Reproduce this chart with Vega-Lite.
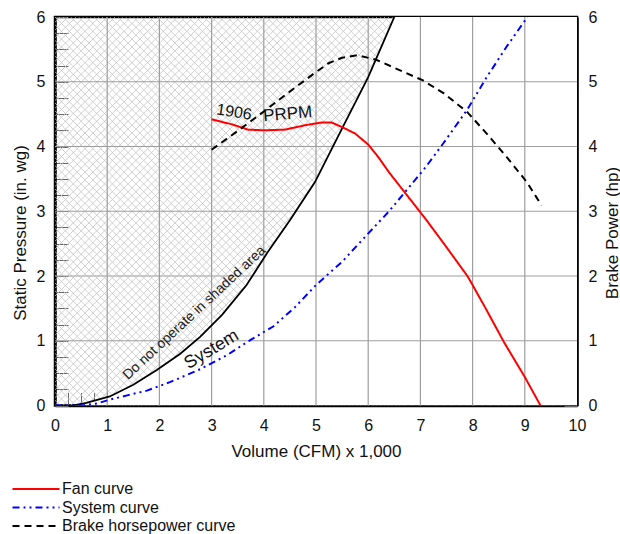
{
  "$schema": "https://vega.github.io/schema/vega-lite/v6.json",
  "width": 522,
  "height": 388.5,
  "autosize": {"type": "none"},
  "padding": {"left": 55, "top": 17, "right": 43, "bottom": 128},
  "background": "white",
  "config": {
    "view": {"stroke": "black", "strokeWidth": 2.5},
    "font": "Liberation Sans",
    "axis": {
      "labelFont": "Liberation Sans", "titleFont": "Liberation Sans",
      "labelFontSize": 16, "titleFontSize": 17, "titleFontWeight": "normal",
      "labelColor": "#111", "titleColor": "#111",
      "grid": false, "domainColor": "black", "domainWidth": 2.5,
      "tickColor": "#666", "tickSize": -13, "tickWidth": 1,
      "labelFlush": false, "labelOverlap": false
    }
  },
  "datasets": {
    "hatch": [
      {"p": -7.5, "q": -0.05}, {"p": -7.35, "q": 0.1}, {"p": -7.2, "q": 0.25}, {"p": -7.05, "q": 0.4}, {"p": -6.9, "q": 0.55},
      {"p": -6.75, "q": 0.7}, {"p": -6.6, "q": 0.85}, {"p": -6.45, "q": 1.0}, {"p": -6.3, "q": 1.15}, {"p": -6.15, "q": 1.3},
      {"p": -6.0, "q": 1.45}, {"p": -5.85, "q": 1.6}, {"p": -5.7, "q": 1.75}, {"p": -5.55, "q": 1.9}, {"p": -5.4, "q": 2.05},
      {"p": -5.25, "q": 2.2}, {"p": -5.1, "q": 2.35}, {"p": -4.95, "q": 2.5}, {"p": -4.8, "q": 2.65}, {"p": -4.65, "q": 2.8},
      {"p": -4.5, "q": 2.95}, {"p": -4.35, "q": 3.1}, {"p": -4.2, "q": 3.25}, {"p": -4.05, "q": 3.4}, {"p": -3.9, "q": 3.55},
      {"p": -3.75, "q": 3.7}, {"p": -3.6, "q": 3.85}, {"p": -3.45, "q": 4.0}, {"p": -3.3, "q": 4.15}, {"p": -3.15, "q": 4.3},
      {"p": -3.0, "q": 4.45}, {"p": -2.85, "q": 4.6}, {"p": -2.7, "q": 4.75}, {"p": -2.55, "q": 4.9}, {"p": -2.4, "q": 5.05},
      {"p": -2.25, "q": 5.2}, {"p": -2.1, "q": 5.35}, {"p": -1.95, "q": 5.5}, {"p": -1.8, "q": 5.65}, {"p": -1.65, "q": 5.8},
      {"p": -1.5, "q": 5.95}, {"p": -1.35, "q": 6.1}, {"p": -1.2, "q": 6.25}, {"p": -1.05, "q": 6.4}, {"p": -0.9, "q": 6.55},
      {"p": -0.75, "q": 6.7}, {"p": -0.6, "q": 6.85}, {"p": -0.45, "q": 7.0}, {"p": -0.3, "q": 7.15}, {"p": -0.15, "q": 7.3},
      {"p": 0.0, "q": 7.45}, {"p": 0.15, "q": 7.6}, {"p": 0.3, "q": 7.75}, {"p": 0.45, "q": 7.9}, {"p": 0.6, "q": 8.05},
      {"p": 0.75, "q": 8.2}, {"p": 0.9, "q": 8.35}, {"p": 1.05, "q": 8.5}, {"p": 1.2, "q": 8.65}, {"p": 1.35, "q": 8.8},
      {"p": 1.5, "q": 8.95}, {"p": 1.65, "q": 9.1}, {"p": 1.8, "q": 9.25}, {"p": 1.95, "q": 9.4}, {"p": 2.1, "q": 9.55},
      {"p": 2.25, "q": 9.7}, {"p": 2.4, "q": 9.85}, {"p": 2.55, "q": 10.0}, {"p": 2.7, "q": 10.15}, {"p": 2.85, "q": 10.3},
      {"p": 3.0, "q": 10.45}, {"p": 3.15, "q": 10.6}, {"p": 3.3, "q": 10.75}, {"p": 3.45, "q": 10.9}, {"p": 3.6, "q": 11.05},
      {"p": 3.75, "q": 11.2}, {"p": 3.9, "q": 11.35}, {"p": 4.05, "q": 11.5}, {"p": 4.2, "q": 11.65}, {"p": 4.35, "q": 11.8},
      {"p": 4.5, "q": 11.95}, {"p": 4.65, "q": 12.1}, {"p": 4.8, "q": 12.25}, {"p": 4.95, "q": 12.4}, {"p": 5.1, "q": 12.55},
      {"p": 5.25, "q": 12.7}, {"p": 5.4, "q": 12.85}, {"p": 5.55, "q": 13.0}, {"p": 5.7, "q": 13.15}, {"p": 5.85, "q": 13.3},
      {"p": 6.0, "q": 13.45}, {"p": 6.15, "q": 13.6}, {"p": 6.3, "q": 13.75}, {"p": 6.45, "q": 13.9}, {"p": 6.6, "q": 14.05}
    ],
    "black": [
      {"x": 0.35, "y": 0}, {"x": 0.6, "y": 0.04}, {"x": 1.05, "y": 0.14}, {"x": 1.5, "y": 0.32}, {"x": 1.95, "y": 0.55},
      {"x": 2.4, "y": 0.8}, {"x": 2.78, "y": 1.06}, {"x": 3.2, "y": 1.4}, {"x": 3.67, "y": 1.86}, {"x": 4.06, "y": 2.35},
      {"x": 4.5, "y": 2.86}, {"x": 4.98, "y": 3.45}, {"x": 5.52, "y": 4.31}, {"x": 6.0, "y": 5.07}, {"x": 6.5, "y": 6.0}
    ],
    "curves": [
      {"series": "Fan curve", "x": 3.0, "y": 4.42}, {"series": "Fan curve", "x": 3.4, "y": 4.34}, {"series": "Fan curve", "x": 3.7, "y": 4.26},
      {"series": "Fan curve", "x": 4.0, "y": 4.25}, {"series": "Fan curve", "x": 4.4, "y": 4.26}, {"series": "Fan curve", "x": 4.8, "y": 4.33},
      {"series": "Fan curve", "x": 5.1, "y": 4.37}, {"series": "Fan curve", "x": 5.3, "y": 4.37}, {"series": "Fan curve", "x": 5.5, "y": 4.3},
      {"series": "Fan curve", "x": 5.75, "y": 4.2}, {"series": "Fan curve", "x": 6.0, "y": 4.03}, {"series": "Fan curve", "x": 6.2, "y": 3.83},
      {"series": "Fan curve", "x": 6.4, "y": 3.6}, {"series": "Fan curve", "x": 6.75, "y": 3.24}, {"series": "Fan curve", "x": 7.1, "y": 2.88},
      {"series": "Fan curve", "x": 7.45, "y": 2.5}, {"series": "Fan curve", "x": 7.9, "y": 2.0}, {"series": "Fan curve", "x": 8.0, "y": 1.86},
      {"series": "Fan curve", "x": 8.25, "y": 1.5}, {"series": "Fan curve", "x": 8.6, "y": 0.98}, {"series": "Fan curve", "x": 9.0, "y": 0.44},
      {"series": "Fan curve", "x": 9.3, "y": 0.0},
      {"series": "System curve", "x": 0.0, "y": 0.0}, {"series": "System curve", "x": 0.5, "y": 0.0}, {"series": "System curve", "x": 0.8, "y": 0.03},
      {"series": "System curve", "x": 1.05, "y": 0.09}, {"series": "System curve", "x": 1.4, "y": 0.16}, {"series": "System curve", "x": 1.76, "y": 0.23},
      {"series": "System curve", "x": 2.2, "y": 0.36}, {"series": "System curve", "x": 2.78, "y": 0.56}, {"series": "System curve", "x": 3.3, "y": 0.78},
      {"series": "System curve", "x": 3.74, "y": 1.01}, {"series": "System curve", "x": 4.18, "y": 1.22}, {"series": "System curve", "x": 4.6, "y": 1.52},
      {"series": "System curve", "x": 5.0, "y": 1.86}, {"series": "System curve", "x": 5.5, "y": 2.22}, {"series": "System curve", "x": 5.97, "y": 2.63},
      {"series": "System curve", "x": 6.4, "y": 3.0}, {"series": "System curve", "x": 6.74, "y": 3.33}, {"series": "System curve", "x": 7.1, "y": 3.68},
      {"series": "System curve", "x": 7.44, "y": 4.05}, {"series": "System curve", "x": 7.89, "y": 4.56}, {"series": "System curve", "x": 8.27, "y": 5.07},
      {"series": "System curve", "x": 8.65, "y": 5.54}, {"series": "System curve", "x": 9.05, "y": 6.0},
      {"series": "Brake horsepower curve", "x": 3.0, "y": 3.95}, {"series": "Brake horsepower curve", "x": 3.5, "y": 4.24},
      {"series": "Brake horsepower curve", "x": 4.0, "y": 4.54}, {"series": "Brake horsepower curve", "x": 4.5, "y": 4.85},
      {"series": "Brake horsepower curve", "x": 5.0, "y": 5.15}, {"series": "Brake horsepower curve", "x": 5.25, "y": 5.29},
      {"series": "Brake horsepower curve", "x": 5.5, "y": 5.37}, {"series": "Brake horsepower curve", "x": 5.8, "y": 5.41},
      {"series": "Brake horsepower curve", "x": 6.15, "y": 5.34}, {"series": "Brake horsepower curve", "x": 6.6, "y": 5.18},
      {"series": "Brake horsepower curve", "x": 7.05, "y": 5.02}, {"series": "Brake horsepower curve", "x": 7.45, "y": 4.82},
      {"series": "Brake horsepower curve", "x": 7.9, "y": 4.53}, {"series": "Brake horsepower curve", "x": 8.27, "y": 4.2},
      {"series": "Brake horsepower curve", "x": 8.65, "y": 3.84}, {"series": "Brake horsepower curve", "x": 9.04, "y": 3.45},
      {"series": "Brake horsepower curve", "x": 9.32, "y": 3.09}
    ]
  },
  "layer": [
    {
      "data": {"name": "hatch"},
      "mark": {"type": "rule", "color": "#c4c4c4", "strokeWidth": 0.8, "clip": true},
      "encoding": {
        "x": {"field": "p", "type": "quantitative", "scale": {"domain": [0, 10], "nice": false},
          "axis": {"values": [0,0.25,0.5,0.75,1,1.25,1.5,1.75,2,2.25,2.5,2.75,3,3.25,3.5,3.75,4,4.25,4.5,4.75,5,5.25,5.5,5.75,6,6.25,6.5,6.75,7,7.25,7.5,7.75,8,8.25,8.5,8.75,9,9.25,9.5,9.75,10],
            "labelExpr": "datum.value % 1 == 0 ? format(datum.value, 'd') : ''", "labelPadding": 25,
            "title": "Volume (CFM) x 1,000", "titleY": 38}},
        "x2": {"field": "q"},
        "y": {"datum": 0, "type": "quantitative", "scale": {"domain": [0, 6], "nice": false},
          "axis": {"values": [0,0.25,0.5,0.75,1,1.25,1.5,1.75,2,2.25,2.5,2.75,3,3.25,3.5,3.75,4,4.25,4.5,4.75,5,5.25,5.5,5.75,6],
            "labelExpr": "datum.value % 1 == 0 ? format(datum.value, 'd') : ''", "labelPadding": 23,
            "title": "Static Pressure (in. wg)", "titleX": -34.5, "titleY": 215.5, "titleBaseline": "middle", "titleAngle": -90}},
        "y2": {"datum": 6}
      }
    },
    {
      "data": {"name": "hatch"},
      "mark": {"type": "rule", "color": "#c4c4c4", "strokeWidth": 0.8, "clip": true},
      "encoding": {
        "x": {"field": "q", "type": "quantitative", "axis": null},
        "x2": {"field": "p"},
        "y": {"datum": 0, "type": "quantitative", "axis": null},
        "y2": {"datum": 6}
      }
    },
    {
      "data": {"name": "black"},
      "mark": {"type": "area", "orient": "horizontal", "color": "white", "opacity": 1, "clip": true},
      "encoding": {
        "x": {"field": "x", "type": "quantitative", "axis": null},
        "x2": {"datum": 10},
        "y": {"field": "y", "type": "quantitative", "axis": null}
      }
    },
    {
      "data": {"values": [{"g": 1}, {"g": 2}, {"g": 3}, {"g": 4}, {"g": 5}, {"g": 6}, {"g": 7}, {"g": 8}, {"g": 9}]},
      "mark": {"type": "rule", "color": "#9e9e9e", "strokeWidth": 1.2},
      "encoding": {"x": {"field": "g", "type": "quantitative", "axis": null}}
    },
    {
      "data": {"values": [{"g": 1}, {"g": 2}, {"g": 3}, {"g": 4}, {"g": 5}]},
      "mark": {"type": "rule", "color": "#9e9e9e", "strokeWidth": 1.2},
      "encoding": {"y": {"field": "g", "type": "quantitative", "axis": null}}
    },
    {
      "data": {"name": "black"},
      "mark": {"type": "line", "color": "black", "strokeWidth": 1.8, "clip": true},
      "encoding": {
        "x": {"field": "x", "type": "quantitative", "axis": null},
        "y": {"field": "y", "type": "quantitative", "axis": null}
      }
    },
    {
      "data": {"name": "curves"},
      "mark": {"type": "line", "strokeWidth": 2, "clip": true},
      "encoding": {
        "x": {"field": "x", "type": "quantitative", "axis": null},
        "y": {"field": "y", "type": "quantitative",
          "axis": {"orient": "right", "values": [0,0.25,0.5,0.75,1,1.25,1.5,1.75,2,2.25,2.5,2.75,3,3.25,3.5,3.75,4,4.25,4.5,4.75,5,5.25,5.5,5.75,6],
            "labelExpr": "datum.value % 1 == 0 ? format(datum.value, 'd') : ''", "labelPadding": 24,
            "title": "Brake Power (hp)", "titleX": 35, "titleY": 215.5, "titleBaseline": "middle", "titleAngle": -90}},
        "color": {"field": "series", "type": "nominal",
          "scale": {"domain": ["Fan curve", "System curve", "Brake horsepower curve"], "range": ["#ff0000", "#0000ff", "#000000"]},
          "legend": {"title": null, "orient": "none", "legendX": -27, "legendY": 464, "symbolType": "M-4,0H4", "symbolSize": 138,
            "symbolStrokeWidth": 2, "labelFontSize": 16, "labelFont": "Liberation Sans", "labelColor": "#111", "rowPadding": 2.5, "labelOffset": 18, "labelLimit": 0}},
        "strokeDash": {"field": "series", "type": "nominal",
          "scale": {"domain": ["Fan curve", "System curve", "Brake horsepower curve"], "range": [[1, 0], [7, 4, 2, 4, 2, 4], [7, 5]]},
          "legend": {"title": null, "orient": "none", "legendX": -27, "legendY": 464, "symbolType": "M-4,0H4", "symbolSize": 138,
            "symbolStrokeWidth": 2, "labelFontSize": 16, "labelFont": "Liberation Sans", "labelColor": "#111", "rowPadding": 2.5, "labelOffset": 18, "labelLimit": 0}}
      }
    },
    {
      "data": {"values": [{"x": 2.67, "y": 1.43, "t": "Do not operate in  shaded area"}]},
      "mark": {"type": "text", "angle": -43, "fontSize": 14, "font": "Liberation Sans", "color": "#222", "align": "center", "baseline": "middle"},
      "encoding": {
        "x": {"field": "x", "type": "quantitative", "axis": null},
        "y": {"field": "y", "type": "quantitative", "axis": null},
        "text": {"field": "t"}
      }
    },
    {
      "data": {"values": [{"x": 3.0, "y": 0.86, "t": "System"}]},
      "mark": {"type": "text", "angle": -31, "fontSize": 18, "font": "Liberation Sans", "color": "#111", "align": "center", "baseline": "middle"},
      "encoding": {
        "x": {"field": "x", "type": "quantitative", "axis": null},
        "y": {"field": "y", "type": "quantitative", "axis": null},
        "text": {"field": "t"}
      }
    },
    {
      "data": {"values": [{"x": 3.43, "y": 4.53, "t": "1906"}]},
      "mark": {"type": "text", "angle": 9, "fontSize": 16, "font": "Liberation Sans", "color": "#111", "align": "center", "baseline": "middle"},
      "encoding": {
        "x": {"field": "x", "type": "quantitative", "axis": null},
        "y": {"field": "y", "type": "quantitative", "axis": null},
        "text": {"field": "t"}
      }
    },
    {
      "data": {"values": [{"x": 4.46, "y": 4.5, "t": "PRPM"}]},
      "mark": {"type": "text", "angle": -5, "fontSize": 17, "font": "Liberation Sans", "color": "#111", "align": "center", "baseline": "middle"},
      "encoding": {
        "x": {"field": "x", "type": "quantitative", "axis": null},
        "y": {"field": "y", "type": "quantitative", "axis": null},
        "text": {"field": "t"}
      }
    }
  ],
  "resolve": {"axis": {"x": "independent", "y": "independent"}}
}
